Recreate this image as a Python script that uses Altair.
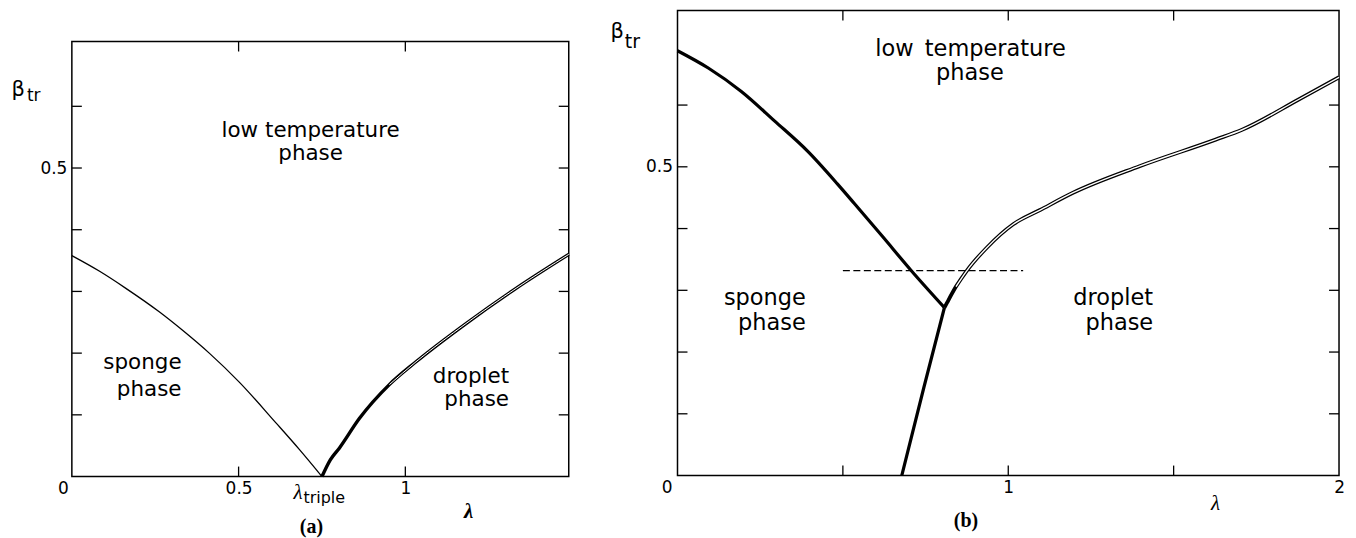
import altair as alt
import pandas as pd

# ---------------- panel (a) ----------------
a_sponge_lam = [0.0, 0.082, 0.162, 0.262, 0.332, 0.412, 0.502, 0.612, 0.682, 0.75]
a_sponge_beta = [0.358, 0.333, 0.305, 0.267, 0.237, 0.200, 0.153, 0.087, 0.044, 0.0]
a_drop_lam = [0.75, 0.775, 0.802, 0.862, 0.952, 1.032, 1.182, 1.332, 1.49]
a_drop_beta = [0.0, 0.027, 0.046, 0.094, 0.149, 0.186, 0.248, 0.305, 0.360]
a_xtick_labels = [0, 0.5, 1]
a_ytick_labels = [0.5]
a_xticks = [0.5, 1.0]
a_yticks = [0.1, 0.2, 0.3, 0.4, 0.5, 0.6]

# ---------------- panel (b) ----------------
b_sponge_lam = [0.0, 0.093, 0.193, 0.294, 0.394, 0.484, 0.534, 0.62, 0.705, 0.807]
b_sponge_beta = [0.688, 0.660, 0.622, 0.574, 0.525, 0.472, 0.441, 0.387, 0.333, 0.272]
b_lower_lam = [0.678, 0.745, 0.807]
b_lower_beta = [0.0, 0.143, 0.272]
b_drop_lam = [0.807, 0.815, 0.842, 0.875, 0.935, 1.015, 1.096, 1.196, 1.397, 1.627, 1.707, 1.878, 2.0]
b_drop_beta = [0.272, 0.280, 0.306, 0.332, 0.369, 0.407, 0.430, 0.458, 0.501, 0.544, 0.560, 0.609, 0.645]
b_dash_lam = [0.5, 1.045]
b_dash_beta = [0.332, 0.332]
b_xtick_labels = [0, 1, 2]
b_ytick_labels = [0.5]
b_xticks = [0.5, 1.0, 1.5]
b_yticks = [0.1, 0.2, 0.3, 0.4, 0.5, 0.6]

# ---------------- annotations ----------------
a_phase_text = ["low temperature", "phase", "sponge", "phase", "droplet", "phase"]
a_phase_lam = [0.716, 0.716, 0.329, 0.329, 1.311, 1.311]
a_phase_beta = [0.5496, 0.5125, 0.175, 0.131, 0.151, 0.114]
a_phase_align = ["center", "center", "right", "right", "right", "right"]

b_phase_text = ["low\u2002temperature", "phase", "sponge", "phase", "droplet", "phase"]
b_phase_lam = [0.886, 0.884, 0.388, 0.388, 1.438, 1.438]
b_phase_beta = [0.679, 0.640, 0.276, 0.236, 0.276, 0.236]
b_phase_align = ["center", "center", "right", "right", "right", "right"]

SANS = "DejaVu Sans"
SERIF = "Liberation Serif"

W_A, H_A = 498, 436
W_B, H_B = 663, 466


def panel(W, H, xdom, ydom, curves, xtick_labels, ytick_labels, xticks, yticks,
          zero_off, texts, text_size, extras):
    xs = alt.Scale(domain=xdom, nice=False, zero=False)
    ys = alt.Scale(domain=ydom, nice=False, zero=False)
    ax = alt.Axis(values=xtick_labels, title=None, grid=False, domain=False, ticks=False,
                  labelFont=SANS, labelFontSize=17, labelColor="black", labelPadding=4,
                  labelFlush=False, labelOverlap=False, format="~g",
                  labelOffset=alt.condition("datum.value == 0", alt.value(zero_off), alt.value(0)))
    ay = alt.Axis(values=ytick_labels, title=None, grid=False, domain=False, ticks=False,
                  labelFont=SANS, labelFontSize=17, labelColor="black", labelPadding=5,
                  format="~g")
    X = alt.X("lam:Q", scale=xs, axis=ax)
    Y = alt.Y("beta:Q", scale=ys, axis=ay)
    layers = []
    for (lam, beta, width, color, dash, filt) in curves:
        df = pd.DataFrame({"lam": lam, "beta": beta})
        kw = dict(color=color, strokeWidth=width, interpolate="monotone", strokeCap="butt")
        if dash:
            kw["strokeDash"] = dash
        c = alt.Chart(df).mark_line(**kw)
        if filt:
            c = c.transform_filter(filt)
        layers.append(c.encode(x=X, y=Y))
    # inward ticks
    ty = pd.DataFrame({"beta": yticks})
    tx = pd.DataFrame({"lam": xticks})
    layers.append(alt.Chart(ty).mark_rule(color="black", strokeWidth=1.3).encode(
        y=Y, x=alt.value(0), x2=alt.value(10)))
    layers.append(alt.Chart(ty).mark_rule(color="black", strokeWidth=1.3).encode(
        y=Y, x=alt.value(W - 10), x2=alt.value(W)))
    layers.append(alt.Chart(tx).mark_rule(color="black", strokeWidth=1.3).encode(
        x=X, y=alt.value(H - 10), y2=alt.value(H)))
    layers.append(alt.Chart(tx).mark_rule(color="black", strokeWidth=1.3).encode(
        x=X, y=alt.value(0), y2=alt.value(10)))
    # phase labels
    txt, lam, beta, align = texts
    for al in ["center", "right"]:
        rows = [(t, l, b) for t, l, b, a in zip(txt, lam, beta, align) if a == al]
        df = pd.DataFrame(rows, columns=["t", "lam", "beta"])
        layers.append(alt.Chart(df).mark_text(font=SANS, fontSize=text_size, color="black",
                                              align=al, baseline="alphabetic").encode(
            x=X, y=Y, text="t:N"))
    # extra labels
    for (t, l, b, kw) in extras:
        df = pd.DataFrame({"t": [t], "lam": [l], "beta": [b]})
        layers.append(alt.Chart(df).mark_text(color="black", baseline="alphabetic", **kw).encode(
            x=X, y=Y, text="t:N"))
    return alt.layer(*layers).properties(width=W, height=H)


curves_a = [
    (a_sponge_lam, a_sponge_beta, 1.3, "black", None, None),
    (a_drop_lam, a_drop_beta, 3.4, "black", None, None),
    (a_drop_lam, a_drop_beta, 1.0, "white", None, "datum.lam >= 0.95"),
]
curves_b = [
    (b_sponge_lam, b_sponge_beta, 3.2, "black", None, None),
    (b_lower_lam, b_lower_beta, 3.2, "black", None, None),
    (b_drop_lam, b_drop_beta, 3.8, "black", None, None),
    (b_drop_lam, b_drop_beta, 1.4, "white", None, "datum.lam >= 0.83"),
    (b_dash_lam, b_dash_beta, 1.2, "black", [7, 3.5], None),
]

extras_a = [
    ("β", -0.1407, 0.6175, dict(font=SANS, fontSize=21, align="right")),
    ("tr", -0.1347, 0.6094, dict(font=SANS, fontSize=17, align="left")),
    ("λ", 0.6916, -0.0372, dict(font=SERIF, fontSize=21, fontStyle="italic", align="right")),
    ("triple", 0.6946, -0.0436, dict(font=SANS, fontSize=16, align="left")),
    ("λ", 1.19, -0.0679, dict(font=SERIF, fontSize=21, fontStyle="italic", fontWeight="bold", align="center")),
    ("(a)", 0.7186, -0.0921, dict(font=SERIF, fontSize=20, fontWeight="bold", align="center")),
]
extras_b = [
    ("β", -0.1624, 0.708, dict(font=SANS, fontSize=21, align="right")),
    ("tr", -0.1594, 0.6927, dict(font=SANS, fontSize=19, align="left")),
    ("λ", 1.627, -0.0550, dict(font=SERIF, fontSize=21, fontStyle="italic", align="center")),
    ("(b)", 0.872, -0.0840, dict(font=SERIF, fontSize=20, fontWeight="bold", align="center")),
]

chart_a = panel(W_A, H_A, [0, 1.49], [0, 0.705], curves_a, a_xtick_labels, a_ytick_labels,
                a_xticks, a_yticks, -9,
                (a_phase_text, a_phase_lam, a_phase_beta, a_phase_align), 21.5, extras_a)

# empty band above panel (a) so that both frames share the same baseline
spacer = alt.Chart(pd.DataFrame({"t": [""]})).mark_text().encode(text="t:N").properties(
    width=W_A, height=28, view=alt.ViewBackground(stroke="transparent"))
left = alt.vconcat(spacer, chart_a, spacing=0)

chart_b = panel(W_B, H_B, [0, 2.0], [0, 0.753], curves_b, b_xtick_labels, b_ytick_labels,
                b_xticks, b_yticks, -11,
                (b_phase_text, b_phase_lam, b_phase_beta, b_phase_align), 22.5, extras_b)

chart = alt.hconcat(left, chart_b, spacing=33).properties(
    padding={"left": 2, "top": 0, "right": 0, "bottom": 0}
).configure_view(stroke="black", strokeWidth=1.5)

chart.save("out.html", embed_options={"renderer": "svg", "actions": False})
